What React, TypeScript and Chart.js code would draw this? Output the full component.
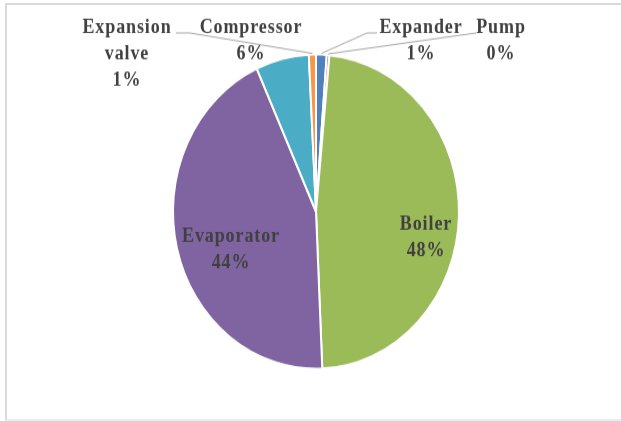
import React, { useEffect, useRef } from 'react';
import { Chart, registerables } from 'chart.js';

Chart.register(...registerables);

const categories = ['Expander', 'Pump', 'Boiler', 'Evaporator', 'Compressor', 'Expansion valve'];
const shares = [1.2, 0.3, 47.8, 43.9, 6.0, 0.8];
const percentLabels = ['1%', '0%', '48%', '44%', '6%', '1%'];
const sliceColors = ['#4F81BD', '#C0504D', '#9BBB59', '#8064A2', '#4BACC6', '#F79646'];

// layout (canvas coordinates before vertical stretch)
const STRETCH = 421 / 383;
const labelLayout = [
  { lines: ['Expander'], x: 421, y: 30, leader: [[377, 30], [367, 30]] },
  { lines: ['Pump'], x: 501, y: 30, leader: [[476, 30]] },
  { lines: ['Boiler'], x: 426, y: 209, leader: null },
  { lines: ['Evaporator'], x: 231, y: 220, leader: null },
  { lines: ['Compressor'], x: 251, y: 30, leader: null },
  { lines: ['Expansion', 'valve'], x: 127, y: 30, leader: [[176, 30], [190, 30]] },
];

const labelPlugin = {
  id: 'excelLabels',
  afterDatasetsDraw(chart: any) {
    const ctx = chart.ctx;
    const meta = chart.getDatasetMeta(0);
    ctx.save();
    ctx.strokeStyle = '#a6a6a6';
    ctx.lineWidth = 1;
    meta.data.forEach((arc: any, i: number) => {
      const lay = labelLayout[i];
      if (!lay.leader) return;
      const mid = (arc.startAngle + arc.endAngle) / 2;
      const ex = arc.x + Math.cos(mid) * (arc.outerRadius + 1);
      const ey = arc.y + Math.sin(mid) * (arc.outerRadius + 1);
      ctx.beginPath();
      ctx.moveTo(lay.leader[0][0], lay.leader[0][1]);
      for (let k = 1; k < lay.leader.length; k++) ctx.lineTo(lay.leader[k][0], lay.leader[k][1]);
      ctx.lineTo(ex, ey);
      ctx.stroke();
    });
    ctx.fillStyle = '#404040';
    ctx.font = 'bold 18px "Liberation Serif", "Times New Roman", serif';
    (ctx as any).letterSpacing = '0.9px';
    ctx.textAlign = 'center';
    ctx.textBaseline = 'alphabetic';
    labelLayout.forEach((lay, i) => {
      const lines = [...lay.lines, percentLabels[i]];
      lines.forEach((t, k) => ctx.fillText(t, lay.x, lay.y + k * 24));
    });
    ctx.restore();
  },
};

export default function App() {
  const ref = useRef<HTMLCanvasElement | null>(null);
  useEffect(() => {
    if (!ref.current) return;
    const chart = new Chart(ref.current, {
      type: 'pie',
      data: {
        labels: categories,
        datasets: [
          {
            data: shares,
            backgroundColor: sliceColors,
            borderColor: '#ffffff',
            borderWidth: 2,
          },
        ],
      },
      options: {
        responsive: false,
        animation: false,
        radius: 143,
        layout: { padding: { left: 11, right: 0, top: 2, bottom: 0 } },
        plugins: { legend: { display: false }, tooltip: { enabled: false } },
      },
      plugins: [labelPlugin],
    });
    return () => chart.destroy();
  }, []);
  return (
    <div style={{ position: 'absolute', left: 0, top: 0, width: 621, height: 421, background: '#fff', overflow: 'hidden' }}>
      <div
        style={{
          position: 'absolute',
          left: 5,
          top: 3,
          width: 640,
          height: 414,
          borderTop: '2px solid #dadada',
          borderLeft: '2px solid #dadada',
          borderBottom: '2px solid #ececec',
        }}
      />
      <div style={{ position: 'absolute', left: 0, top: 0, width: 621, height: 383, transform: `scaleY(${STRETCH})`, transformOrigin: '0 0' }}>
        <canvas ref={ref} width={621} height={383} style={{ width: 621, height: 383, display: 'block' }} />
      </div>
    </div>
  );
}
